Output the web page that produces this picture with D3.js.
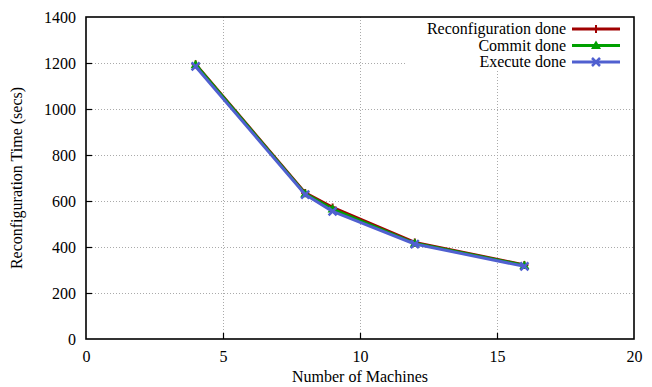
<!DOCTYPE html>
<html>
<head>
<meta charset="utf-8">
<script src="https://cdn.jsdelivr.net/npm/d3@7"></script>
<style>
  body { margin: 0; background: #fff; }
</style>
</head>
<body>
<div id="chart"></div>
<script>
// data
const machines = [4, 8, 9, 12, 16];
const reconfigDone = [1195, 635, 572, 420, 322];
const commitDone = [1192, 632, 565, 416, 320];
const executeDone = [1185, 628, 555, 413, 316];
const xTicks = [0, 5, 10, 15, 20];
const yTicks = [0, 200, 400, 600, 800, 1000, 1200, 1400];

const series = [
  { name: 'Reconfiguration done', values: reconfigDone, color: '#a00000', mark: 'plus' },
  { name: 'Commit done', values: commitDone, color: '#00a000', mark: 'triangle' },
  { name: 'Execute done', values: executeDone, color: '#5060d0', mark: 'cross' }
];

const font = '"Liberation Serif", "Times New Roman", "DejaVu Serif", serif';
const fs = 16;

const width = 652, height = 387;
const m = { left: 86, right: 18, top: 17, bottom: 48 };

const svg = d3.select('#chart').append('svg')
  .attr('width', width)
  .attr('height', height)
  .attr('font-family', font);

const x = d3.scaleLinear().domain([0, 20]).range([m.left, width - m.right]);
const y = d3.scaleLinear().domain([0, 1400]).range([height - m.bottom, m.top]);

// legend box area (gridlines hidden behind it)
const legendLeft = 405, legendBottom = 71;

// grid
const grid = svg.append('g').attr('class', 'grid')
  .attr('stroke', '#aaa').attr('stroke-width', 1).attr('stroke-dasharray', '1,2');
yTicks.slice(1, -1).forEach(t => {
  const yy = Math.round(y(t)) + 0.5;
  const x2 = y(t) < legendBottom ? legendLeft : x(20);
  grid.append('line').attr('x1', x(0)).attr('x2', x2).attr('y1', yy).attr('y2', yy);
});
xTicks.slice(1, -1).forEach(t => {
  const xx = Math.round(x(t)) + 0.5;
  const y2 = x(t) > legendLeft ? legendBottom : y(1400);
  grid.append('line').attr('x1', xx).attr('x2', xx).attr('y1', y(0)).attr('y2', y2);
});

// axes
const xAxis = d3.axisBottom(x).tickValues(xTicks).tickFormat(d3.format('d'))
  .tickSizeInner(-6).tickSizeOuter(0).tickPadding(9);
const yAxis = d3.axisLeft(y).tickValues(yTicks).tickFormat(d3.format('d'))
  .tickSizeInner(-6).tickSizeOuter(0).tickPadding(10);

svg.append('g')
  .attr('transform', `translate(0,${y(0)})`)
  .call(xAxis)
  .attr('font-family', font).attr('font-size', fs)
  .call(g => g.select('.domain').remove())
  .call(g => g.selectAll('text').attr('fill', '#000').attr('dy', '0.9em'));

svg.append('g')
  .attr('transform', `translate(${x(0)},0)`)
  .call(yAxis)
  .attr('font-family', font).attr('font-size', fs)
  .call(g => g.select('.domain').remove())
  .call(g => g.selectAll('text').attr('fill', '#000'));

svg.selectAll('.tick line').attr('stroke', '#000').attr('stroke-width', 1.2);
svg.selectAll('.tick').filter(d => d === 0 || d === 20 || d === 1400).select('line').remove();

svg.append('rect')
  .attr('x', x(0)).attr('y', y(1400))
  .attr('width', x(20) - x(0)).attr('height', y(0) - y(1400))
  .attr('fill', 'none').attr('stroke', '#000').attr('stroke-width', 1.6);

// axis titles
svg.append('text')
  .attr('x', (x(0) + x(20)) / 2).attr('y', height - 5)
  .attr('text-anchor', 'middle').attr('font-size', fs)
  .text('Number of Machines');

svg.append('text')
  .attr('transform', `translate(22,${(y(0) + y(1400)) / 2}) rotate(-90)`)
  .attr('text-anchor', 'middle').attr('font-size', fs)
  .text('Reconfiguration Time (secs)');

// markers
function drawMark(g, kind, cx, cy, color) {
  if (kind === 'plus') {
    g.append('path').attr('d', `M${cx - 4},${cy}H${cx + 4}M${cx},${cy - 4}V${cy + 4}`)
      .attr('stroke', color).attr('stroke-width', 2).attr('fill', 'none');
  } else if (kind === 'triangle') {
    g.append('path').attr('d', `M${cx},${cy - 5}L${cx + 5},${cy + 3.5}L${cx - 5},${cy + 3.5}Z`)
      .attr('fill', color);
  } else {
    g.append('path').attr('d', `M${cx - 4},${cy - 4}L${cx + 4},${cy + 4}M${cx - 4},${cy + 4}L${cx + 4},${cy - 4}`)
      .attr('stroke', color).attr('stroke-width', 2.5).attr('fill', 'none');
  }
}

const line = d3.line().x(d => x(d[0])).y(d => y(d[1]));

series.forEach(s => {
  const pts = machines.map((mc, i) => [mc, s.values[i]]);
  const g = svg.append('g');
  g.append('path').datum(pts)
    .attr('d', line)
    .attr('fill', 'none').attr('stroke', s.color).attr('stroke-width', 3)
    .attr('stroke-linejoin', 'round');
  pts.forEach(p => drawMark(g, s.mark, x(p[0]), y(p[1]), s.color));
});

// legend
const legend = svg.append('g');
series.forEach((s, i) => {
  const ly = 29 + i * 16.5;
  legend.append('text')
    .attr('x', 566).attr('y', ly).attr('dy', '0.32em')
    .attr('text-anchor', 'end').attr('font-size', fs)
    .text(s.name);
  legend.append('line')
    .attr('x1', 572).attr('x2', 620).attr('y1', ly).attr('y2', ly)
    .attr('stroke', s.color).attr('stroke-width', 3);
  drawMark(legend, s.mark, 596, ly, s.color);
});
</script>
</body>
</html>
